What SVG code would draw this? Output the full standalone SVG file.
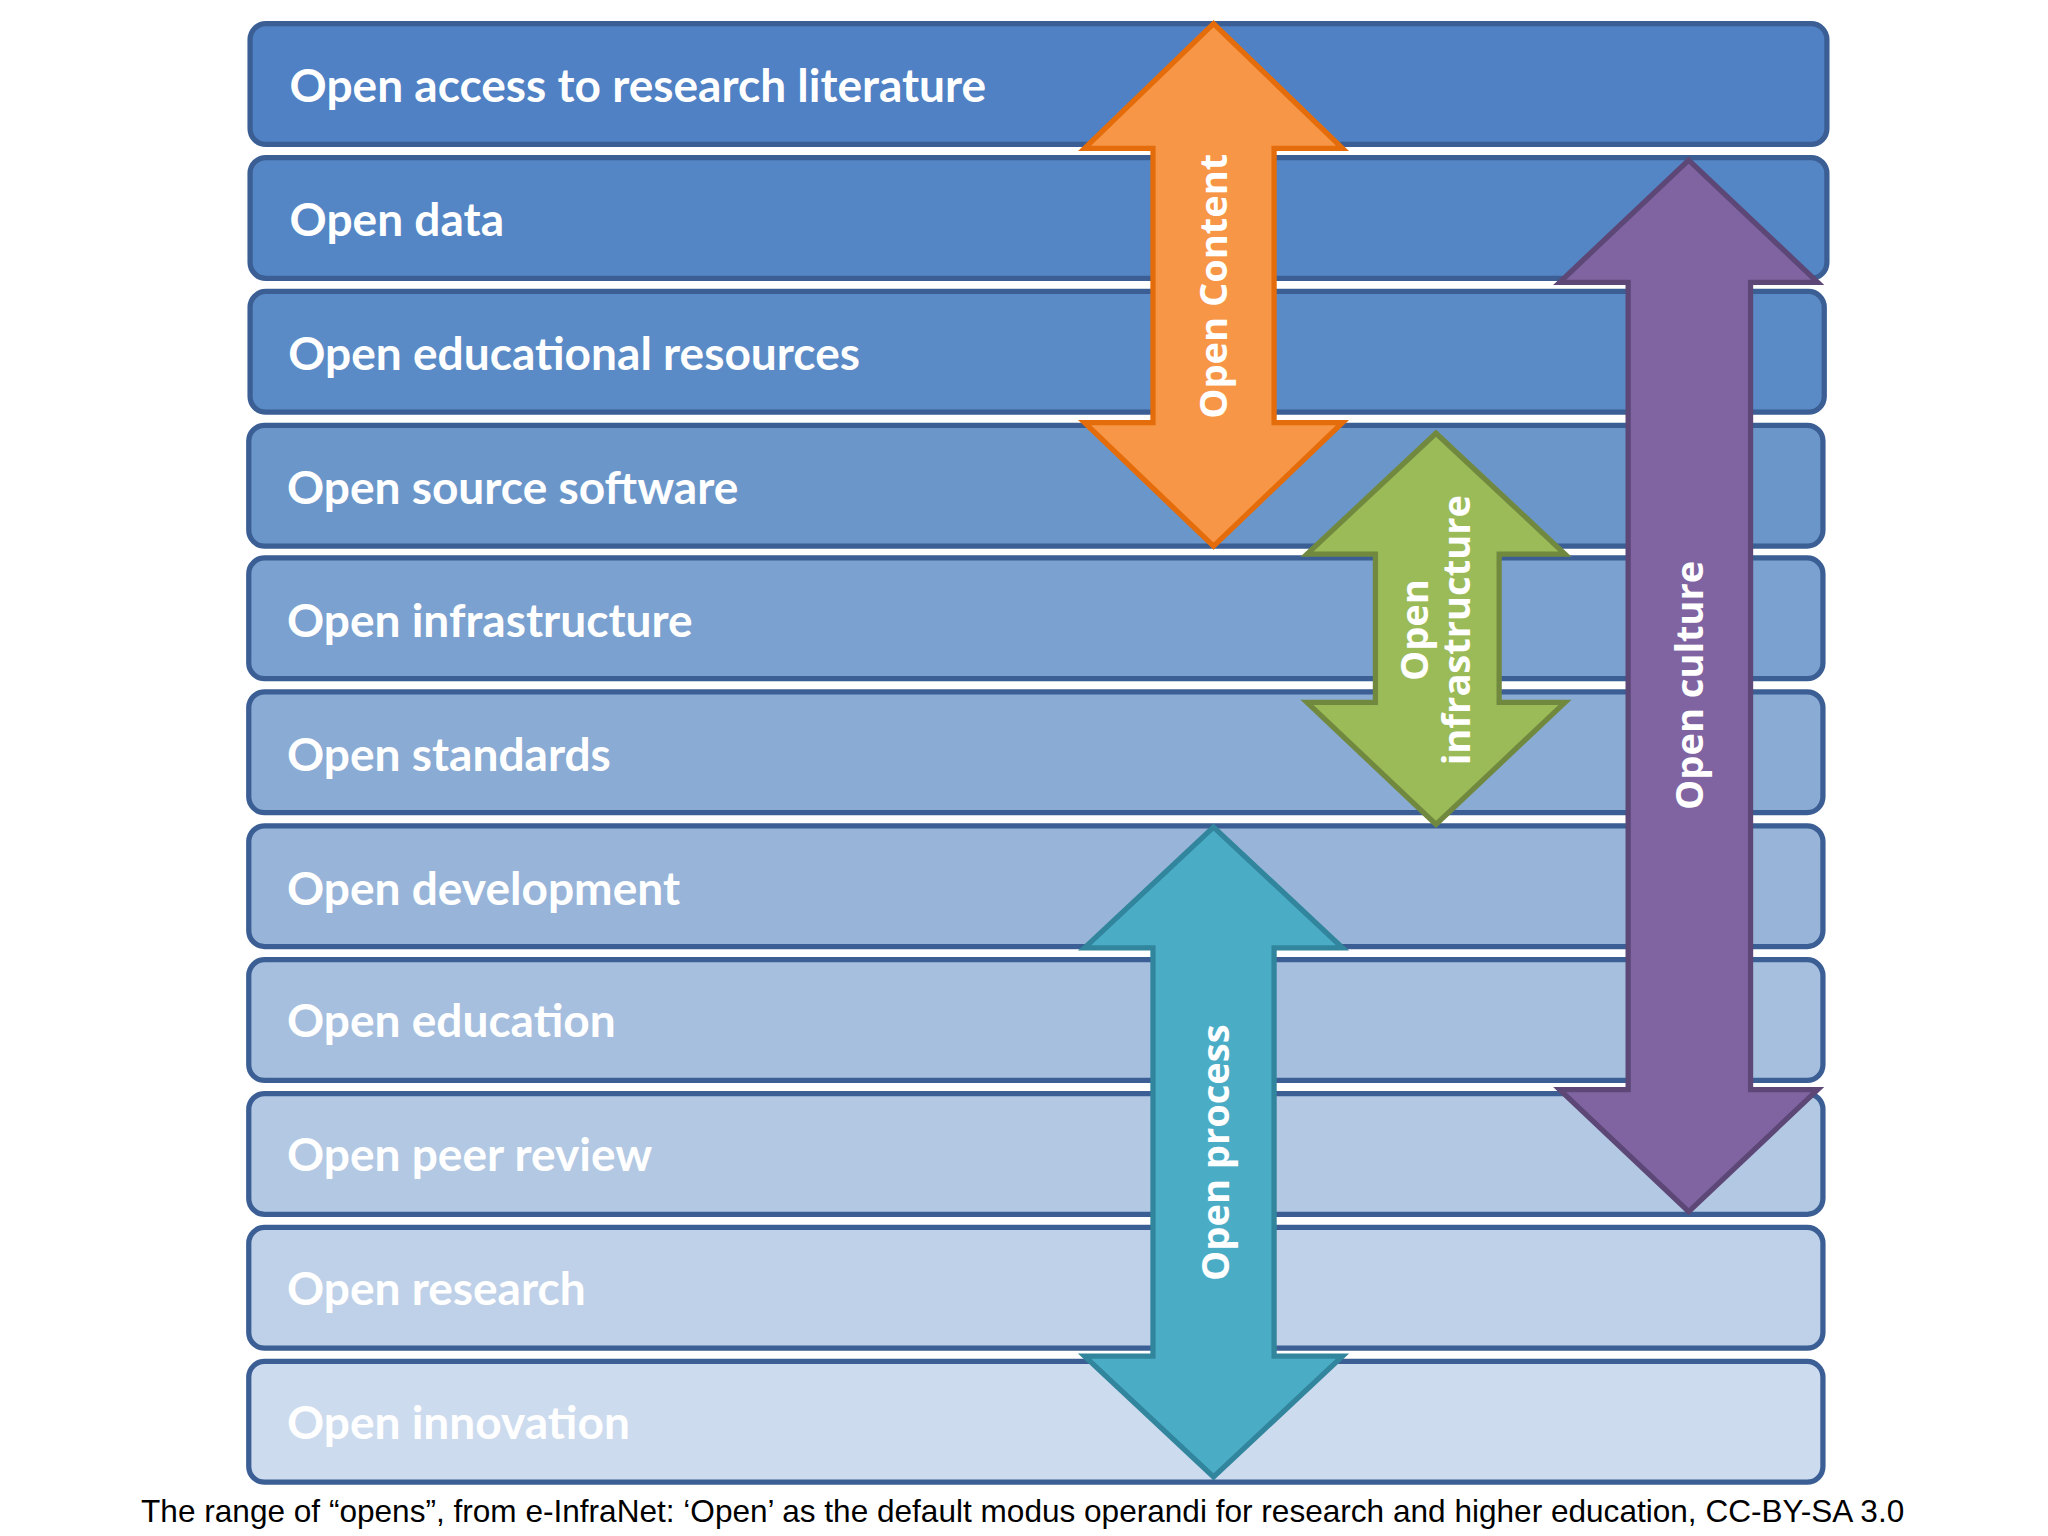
<svg xmlns="http://www.w3.org/2000/svg" width="2048" height="1536" viewBox="0 0 2048 1536">
<style>
.row rect{stroke:#3b5f94;stroke-width:4}
.row text{font-family:Lato,"Open Sans",sans-serif;font-weight:700;font-size:35px;fill:#fff}
.lab{font-family:"Open Sans",sans-serif;font-weight:700;font-size:29px;fill:#fff;text-anchor:middle}
.cap{font-family:"Liberation Sans",Arial,sans-serif;font-size:24px;fill:#000;text-anchor:middle}
.arr path{stroke-width:4;stroke-linejoin:miter}
</style>
<rect width="2048" height="1536" fill="#fff"/>
<g transform="scale(1.3162,1.3128)">
<g id="r1" class="row"><rect x="190" y="18" width="1198" height="92" rx="12" fill="#4f81c4"/><text x="220" y="78">Open access to research literature</text></g>
<g id="r2" class="row"><rect x="190" y="120" width="1198" height="92" rx="12" fill="#5486c5"/><text x="220" y="180">Open data</text></g>
<g id="r3" class="row"><rect x="190" y="222" width="1196" height="92" rx="12" fill="#5a8bc6"/><text x="219" y="282">Open educational resources</text></g>
<g id="r4" class="row"><rect x="189" y="324" width="1196" height="92" rx="12" fill="#6b96ca"/><text x="218" y="384">Open source software</text></g>
<g id="r5" class="row"><rect x="189" y="425" width="1196" height="92" rx="12" fill="#7aa1cf"/><text x="218" y="485">Open infrastructure</text></g>
<g id="r6" class="row"><rect x="189" y="527" width="1196" height="92" rx="12" fill="#89abd4"/><text x="218" y="587">Open standards</text></g>
<g id="r7" class="row"><rect x="189" y="629" width="1196" height="92" rx="12" fill="#98b5d9"/><text x="218" y="689">Open development</text></g>
<g id="r8" class="row"><rect x="189" y="731" width="1196" height="92" rx="12" fill="#a6bfdf"/><text x="218" y="790">Open education</text></g>
<g id="r9" class="row"><rect x="189" y="833" width="1196" height="92" rx="12" fill="#b2c8e3"/><text x="218" y="892">Open peer review</text></g>
<g id="r10" class="row"><rect x="189" y="935" width="1196" height="92" rx="12" fill="#bfd1e8"/><text x="218" y="994">Open research</text></g>
<g id="r11" class="row"><rect x="189" y="1037" width="1196" height="92" rx="12" fill="#cddbef"/><text x="218" y="1096">Open innovation</text></g>
<g id="connectors" class="arr">
<g id="a-content"><path d="M922 18 L1020 113 L968 113 L968 322 L1020 322 L922 416 L824 322 L876 322 L876 113 L824 113 Z" fill="#f79646" stroke="#e46c0a"/><text class="lab" transform="translate(932,218) rotate(-90)">Open Content</text></g>
<g id="a-infra"><path d="M1091 330 L1189 422 L1139 422 L1139 535 L1189 535 L1091 628 L993 535 L1045 535 L1045 422 L993 422 Z" fill="#9bbb59" stroke="#71893f"/><text class="lab" transform="translate(1085,480) rotate(-90)"><tspan x="0" y="0">Open</tspan><tspan x="0" y="32">infrastructure</tspan></text></g>
<g id="a-process"><path d="M922 630 L1020 722 L968 722 L968 1033 L1020 1033 L922 1125 L824 1033 L876 1033 L876 722 L824 722 Z" fill="#4bacc6" stroke="#31859c"/><text class="lab" transform="translate(934,878) rotate(-90)">Open process</text></g>
<g id="a-culture"><path d="M1283 122 L1381 215 L1330 215 L1330 830 L1381 830 L1283 923 L1185 830 L1237 830 L1237 215 L1185 215 Z" fill="#8064a2" stroke="#5c4776"/><text class="lab" transform="translate(1294,522) rotate(-90)">Open culture</text></g>
</g>
<text class="cap" x="777" y="1159">The range of “opens”, from e-InfraNet: ‘Open’ as the default modus operandi for research and higher education, CC-BY-SA 3.0</text>
</g>
</svg>
